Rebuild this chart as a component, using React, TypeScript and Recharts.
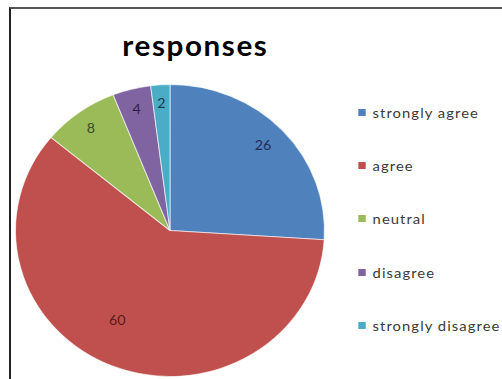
import React from "react";
import { PieChart, Pie, Cell, Legend } from "recharts";

// Survey responses
const categories = ["strongly agree", "agree", "neutral", "disagree", "strongly disagree"];
const counts = [26, 60, 8, 4, 2];
const sliceColors = ["#4F81BD", "#C0504D", "#9BBB59", "#8064A2", "#4BACC6"];
const labelColors = ["#1c2f55", "#5a1c1a", "#3b4a1c", "#2f2142", "#1c3a4a"];
const chartTitle = "responses";

const data = categories.map((name, i) => ({ name, value: counts[i] }));

// The whole plot is drawn slightly wider than tall
const STRETCH_X = 1.058;
const CX = 170;
const CY = 230.5;
const R = 146;

// label radius (fraction of outer radius) and angle tweak per slice
const labelRadius = [0.84, 0.7, 0.87, 0.865, 0.875];
const labelAngleShift = [1, -7.6, 0, 0, 0];

const RAD = Math.PI / 180;

const renderLabel = (props: any) => {
  const { cx, cy, midAngle, outerRadius, index, value } = props;
  const a = (midAngle + labelAngleShift[index]) * RAD;
  const r = outerRadius * labelRadius[index];
  const x = cx + r * Math.cos(-a);
  const y = cy + r * Math.sin(-a);
  return (
    <text
      x={x}
      y={y}
      fill={labelColors[index]}
      textAnchor="middle"
      dominantBaseline="central"
      fontFamily="Lato, 'Open Sans', sans-serif"
      fontSize={13.5}
    >
      {value}
    </text>
  );
};

const renderLegend = () => (
  <div style={{ fontFamily: "Lato, 'Open Sans', sans-serif", fontSize: 14, color: "#3a3a3a" }}>
    {categories.map((c, i) => (
      <div
        key={c}
        style={{ display: "flex", alignItems: "center", height: 53.3, whiteSpace: "nowrap" }}
      >
        <span
          style={{
            display: "inline-block",
            width: 7,
            height: 7,
            background: sliceColors[i],
            marginRight: 7,
          }}
        />
        <span style={{ letterSpacing: 1 }}>{c}</span>
      </div>
    ))}
  </div>
);

export default function App() {
  return (
    <div
      style={{
        position: "absolute",
        left: 0,
        top: 0,
        width: 502,
        height: 379,
        background: "#ffffff",
        overflow: "hidden",
      }}
    >
      {/* frame edges */}
      <div
        style={{
          position: "absolute",
          left: 9,
          top: 7,
          width: 600,
          height: 500,
          borderTop: "2px solid #555555",
          borderLeft: "2px solid #222222",
          boxSizing: "border-box",
        }}
      />
      <div
        style={{
          position: "absolute",
          left: 0,
          top: 0,
          width: 502,
          height: 379,
          transform: `scaleX(${STRETCH_X})`,
          transformOrigin: `${CX}px 0px`,
        }}
      >
        <div
          style={{
            position: "absolute",
            left: 194 - 100,
            width: 200,
            top: 28,
            textAlign: "center",
            fontFamily: "Lato, 'Open Sans', sans-serif",
            fontWeight: 700,
            fontSize: 28,
            letterSpacing: 1.5,
            color: "#000",
            lineHeight: "34px",
          }}
        >
          {chartTitle}
        </div>
        <PieChart width={502} height={379} margin={{ top: 0, right: 0, bottom: 0, left: 0 }}>
          <Pie
            data={data}
            dataKey="value"
            nameKey="name"
            cx={CX}
            cy={CY}
            outerRadius={R}
            startAngle={90}
            endAngle={-270}
            stroke="rgba(255,255,255,0.6)"
            strokeWidth={1}
            label={renderLabel}
            labelLine={false}
            isAnimationActive={false}
          >
            {data.map((d, i) => (
              <Cell key={d.name} fill={sliceColors[i]} />
            ))}
          </Pie>
          <Legend
            content={renderLegend}
            layout="vertical"
            wrapperStyle={{ position: "absolute", left: 347.5, top: 85.5, width: 160 }}
          />
        </PieChart>
      </div>
    </div>
  );
}
